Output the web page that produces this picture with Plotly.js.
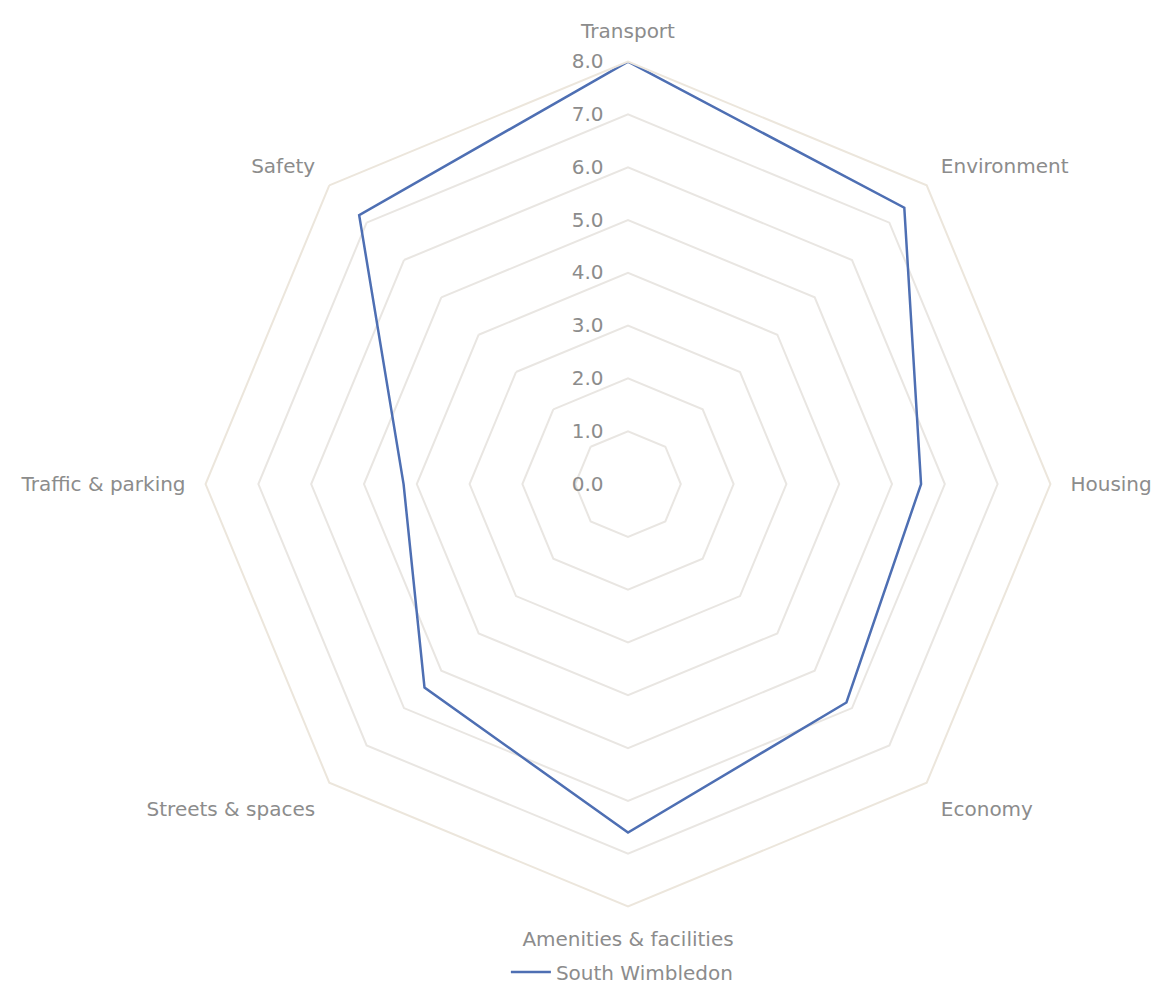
<!DOCTYPE html>
<html>
<head>
<meta charset="utf-8">
<script src="https://cdn.plot.ly/plotly-3.0.1.min.js"></script>
<style>html,body{margin:0;padding:0;background:#fff;}#chart{width:1159px;height:992px;}</style>
</head>
<body>
<div id="chart"></div>
<script>
const categories = ["Transport", "Environment", "Housing", "Economy", "Amenities & facilities", "Streets & spaces", "Traffic & parking", "Safety"];
const seriesName = "South Wimbledon";
const values = [8.0, 7.4, 5.55, 5.85, 6.6, 5.45, 4.25, 7.2];
const radialTicks = [0, 1, 2, 3, 4, 5, 6, 7, 8];

const trace = {
  type: 'scatterpolar',
  mode: 'lines',
  r: values.concat([values[0]]),
  theta: categories.concat([categories[0]]),
  name: seriesName,
  line: {color: '#4e6fb3', width: 2.5},
  showlegend: true
};

const W = 1159, H = 992;
const cx = 628, cy = 487, R = 425;
const FONT = '"DejaVu Sans", Verdana, sans-serif';

const layout = {
  width: W, height: H,
  margin: {l: 0, r: 0, t: 0, b: 0},
  paper_bgcolor: '#ffffff',
  font: {family: FONT, color: '#8c8c8c', size: 20},
  showlegend: true,
  legend: {orientation: 'h', x: 0.537, xanchor: 'center', y: (H - 978) / H, yanchor: 'middle',
           itemwidth: 40,
           font: {family: FONT, size: 20, color: '#8c8c8c'}},
  polar: {
    gridshape: 'linear',
    bgcolor: 'rgba(0,0,0,0)',
    domain: {x: [(cx - R) / W, (cx + R) / W], y: [(H - cy - R) / H, (H - cy + R) / H]},
    angularaxis: {
      rotation: 90, direction: 'clockwise',
      showgrid: false,
      showline: true, linecolor: '#ece6dc', linewidth: 2,
      ticks: 'outside', ticklen: 15, tickcolor: 'rgba(0,0,0,0)',
      tickfont: {family: FONT, size: 20, color: '#8c8c8c'}
    },
    radialaxis: {
      range: [0, 8], angle: 90, tickangle: 90,
      tickvals: radialTicks, tickformat: '.1f',
      showline: false, ticks: 'outside', ticklen: 17, tickcolor: 'rgba(0,0,0,0)',
      gridcolor: '#e9e6e2', gridwidth: 2,
      tickfont: {family: FONT, size: 20, color: '#8c8c8c'},
      side: 'counterclockwise'
    }
  }
};

Plotly.newPlot('chart', [trace], layout, {displayModeBar: false, staticPlot: true});
</script>
</body>
</html>
